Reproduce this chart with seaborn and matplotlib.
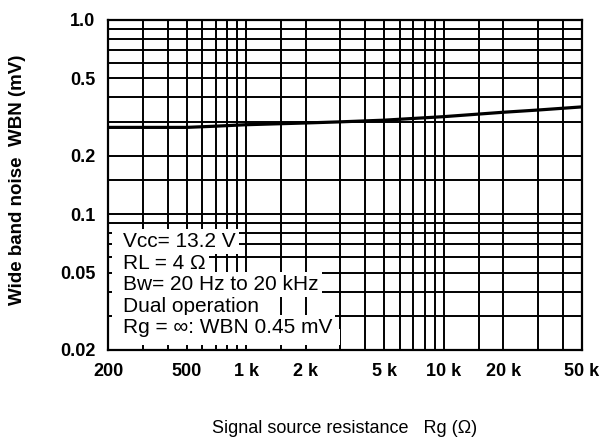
import matplotlib
matplotlib.use("Agg")
import numpy as np
import pandas as pd
import seaborn as sns
import matplotlib.pyplot as plt
from matplotlib.patches import Rectangle

# ---- data ----
rg_ohm = [200, 300, 500, 700, 1000, 2000, 3000, 5000, 10000, 20000, 30000, 50000]
wbn_mv = [0.28, 0.28, 0.28, 0.284, 0.289, 0.295, 0.299, 0.305, 0.318, 0.335, 0.344, 0.357]

x_grid = [300, 400, 500, 600, 700, 800, 900, 1000, 1500, 2000, 3000, 4000, 5000,
          6000, 7000, 8000, 9000, 10000, 15000, 20000, 30000, 40000]
x_tick_values = [200, 500, 1000, 2000, 5000, 10000, 20000, 50000]
x_tick_labels = ["200", "500", "1 k", "2 k", "5 k", "10 k", "20 k", "50 k"]

y_grid = [0.03, 0.04, 0.05, 0.06, 0.07, 0.08, 0.09, 0.1, 0.15, 0.2, 0.3, 0.4,
          0.5, 0.6, 0.7, 0.8, 0.9]
y_tick_values = [0.02, 0.05, 0.1, 0.2, 0.5, 1.0]
y_tick_labels = ["0.02", "0.05", "0.1", "0.2", "0.5", "1.0"]

conditions = ["Vcc= 13.2 V", "RL = 4 \u03a9", "Bw= 20 Hz to 20 kHz",
              "Dual operation", "Rg = \u221e: WBN 0.45 mV"]

x_label = "Signal source resistance   Rg (\u03a9)"
y_label = "Wide band noise  WBN (mV)"

# ---- style ----
sns.set_theme(style="white")
plt.rcParams["font.family"] = ["Liberation Sans", "DejaVu Sans"]

fig = plt.figure(figsize=(6.07, 4.42), dpi=100)
ax = fig.add_axes([108 / 607, 92 / 442, 474 / 607, 330 / 442])

df = pd.DataFrame({"Rg": rg_ohm, "WBN": wbn_mv})
sns.lineplot(data=df, x="Rg", y="WBN", ax=ax, color="black", linewidth=2.3, zorder=4)

ax.set_xscale("log")
ax.set_yscale("log")
ax.set_xlim(200, 50000)
ax.set_ylim(0.02, 1.0)

# ticks: all grid positions, labels only at labelled values
xt = sorted(set(x_grid) | set(x_tick_values))
xl = [x_tick_labels[x_tick_values.index(v)] if v in x_tick_values else "" for v in xt]
yt = sorted(set(y_grid) | set(y_tick_values))
yl = [y_tick_labels[y_tick_values.index(v)] if v in y_tick_values else "" for v in yt]
ax.xaxis.set_minor_locator(matplotlib.ticker.NullLocator())
ax.yaxis.set_minor_locator(matplotlib.ticker.NullLocator())
ax.set_xticks(xt)
ax.set_xticklabels(xl, fontsize=13, fontweight="bold")
ax.set_yticks(yt)
ax.set_yticklabels(yl, fontsize=13, fontweight="bold")
ax.tick_params(axis="both", length=0, colors="black")
ax.tick_params(axis="x", pad=9)
ax.tick_params(axis="y", pad=9)

ax.set_axisbelow(True)
ax.grid(True, which="major", color="black", linewidth=1.4)
for s in ax.spines.values():
    s.set_color("black")
    s.set_linewidth(1.6)
    s.set_visible(True)

ax.set_xlabel(x_label, fontsize=13, color="black")
ax.xaxis.set_label_coords(0.5, -0.212)
ax.xaxis.label.set_va("top")
ax.set_ylabel(y_label, fontsize=13.5, fontweight="bold", color="black", va="center")
ax.yaxis.set_label_coords(-0.19, 0.515)

# white mask behind the condition box
ax.add_patch(Rectangle((0.0085, 0.015), 0.03, 0.365, transform=ax.transAxes,
                       facecolor="white", edgecolor="none", zorder=1))
ax.add_patch(Rectangle((0.0085, 0.015), 0.48, 0.05, transform=ax.transAxes,
                       facecolor="white", edgecolor="none", zorder=1))

base_y = 0.3121
step = 0.0652
for i, line in enumerate(conditions):
    ax.text(0.0316, base_y - i * step, line, transform=ax.transAxes,
            fontsize=15, color="black", ha="left", va="baseline", zorder=3,
            bbox=dict(boxstyle="square,pad=0.15", facecolor="white", edgecolor="none"))

fig.savefig("out.png", dpi=100, facecolor="white")
